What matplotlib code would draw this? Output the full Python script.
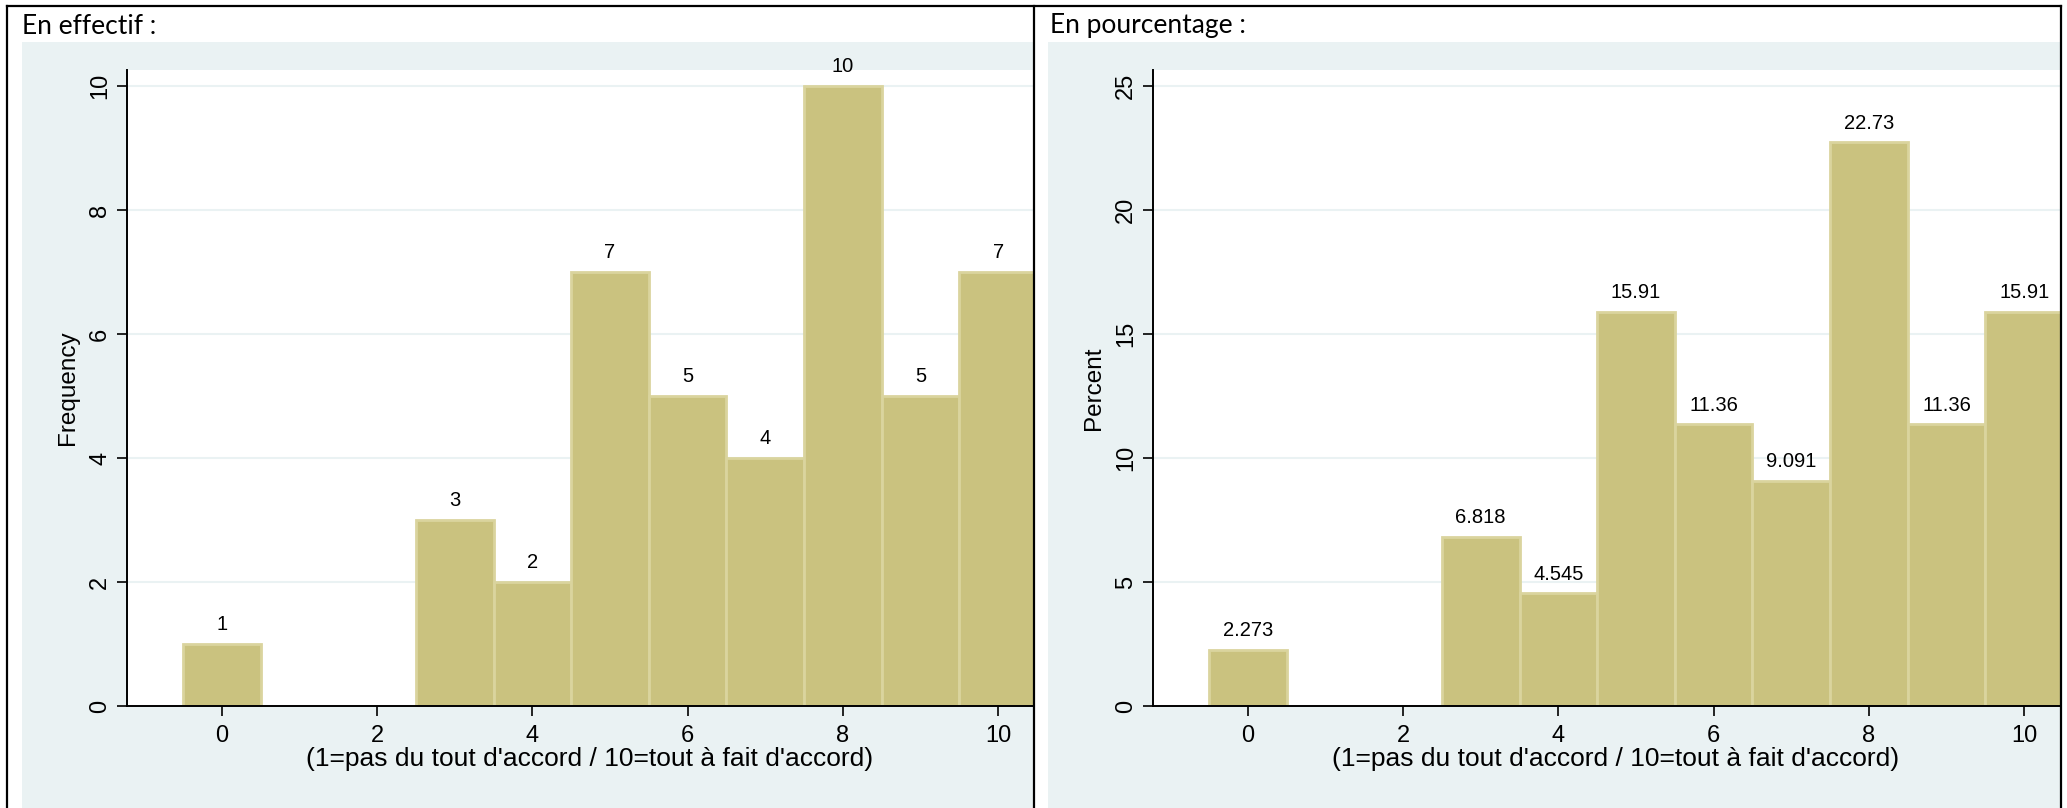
import matplotlib
matplotlib.use("AGG")
from matplotlib import pyplot as plt
from matplotlib.patches import Rectangle
from matplotlib.lines import Line2D

# valeurs
categories = [0, 3, 4, 5, 6, 7, 8, 9, 10]
frequency = [1, 3, 2, 7, 5, 4, 10, 5, 7]
percent = [2.273, 6.818, 4.545, 15.91, 11.36, 9.091, 22.73, 11.36, 15.91]
xticks = [0, 2, 4, 6, 8, 10]
yticks_freq = [0, 2, 4, 6, 8, 10]
yticks_pct = [0, 5, 10, 15, 20, 25]
xlabel = "(1=pas du tout d'accord / 10=tout à fait d'accord)"

W, H = 2067, 808
BG = "#EAF2F3"
BAR = "#CAC27F"
EDGE = "#DAD49E"

plt.rcParams['font.family'] = ['Liberation Sans', 'DejaVu Sans']

fig = plt.figure(figsize=(W / 100, H / 100), dpi=100)
fig.patch.set_facecolor("white")


def fx(x):
    return x / W


def fy(y):
    return 1 - y / H


# fonds bleutes des deux panneaux
for x0, x1 in [(22, 1034), (1048, 2060)]:
    fig.add_artist(Rectangle((fx(x0), 0), fx(x1 - x0), fy(42), transform=fig.transFigure,
                             facecolor=BG, edgecolor="none", zorder=0))

# cadre noir
for xs, ys in [([7, 7], [6, 808]), ([7, 2061], [6, 6]), ([2061, 2061], [6, 808]), ([1034, 1034], [6, 808])]:
    fig.add_artist(Line2D([fx(v) for v in xs], [fy(v) for v in ys], transform=fig.transFigure,
                          color="black", lw=1.6, zorder=5))

fig.text(fx(22), fy(26), "En effectif :", family="Lato", fontsize=19, va="center", ha="left")
fig.text(fx(1050), fy(26), "En pourcentage :", family="Lato", fontsize=19, va="center", ha="left")


def panel(left, values, yticks, ymax, ylabel):
    ax = fig.add_axes([fx(left), fy(706), fx(907), (706 - 70) / H])
    ax.set_facecolor("white")
    ax.bar(categories, values, width=1.0, color=BAR, edgecolor=EDGE, linewidth=2, zorder=2)
    for c, v in zip(categories, values):
        ax.annotate(f"{v:.4g}", xy=(c, v), xytext=(0, 7), textcoords="offset points",
                    ha="center", va="bottom", fontsize=14.5, annotation_clip=False, clip_on=False)
    ax.set_xlim(-1.22, 10.46)
    ax.set_ylim(0, ymax)
    ax.set_xticks(xticks)
    ax.set_yticks(yticks)
    ax.set_yticklabels([str(t) for t in yticks], rotation=90, va="center")
    ax.yaxis.grid(True, color=BG, lw=1.5, zorder=0)
    ax.set_axisbelow(True)
    ax.tick_params(axis="both", labelsize=17, length=7.5, width=1.2, color="black")
    ax.tick_params(axis="y", pad=4)
    ax.tick_params(axis="x", pad=6)
    for s in ["top", "right"]:
        ax.spines[s].set_visible(False)
    for s in ["left", "bottom"]:
        ax.spines[s].set_linewidth(1.4)
    ax.set_xlabel(xlabel, fontsize=19)
    ax.xaxis.set_label_coords(0.51, -0.064)
    ax.set_ylabel(ylabel, fontsize=17.5)
    ax.yaxis.set_label_coords(-0.053, 0.5)
    return ax


panel(127, frequency, yticks_freq, 10.26, "Frequency")
panel(1153, percent, yticks_pct, 25.65, "Percent")

plt.savefig("out.png", dpi=100)
